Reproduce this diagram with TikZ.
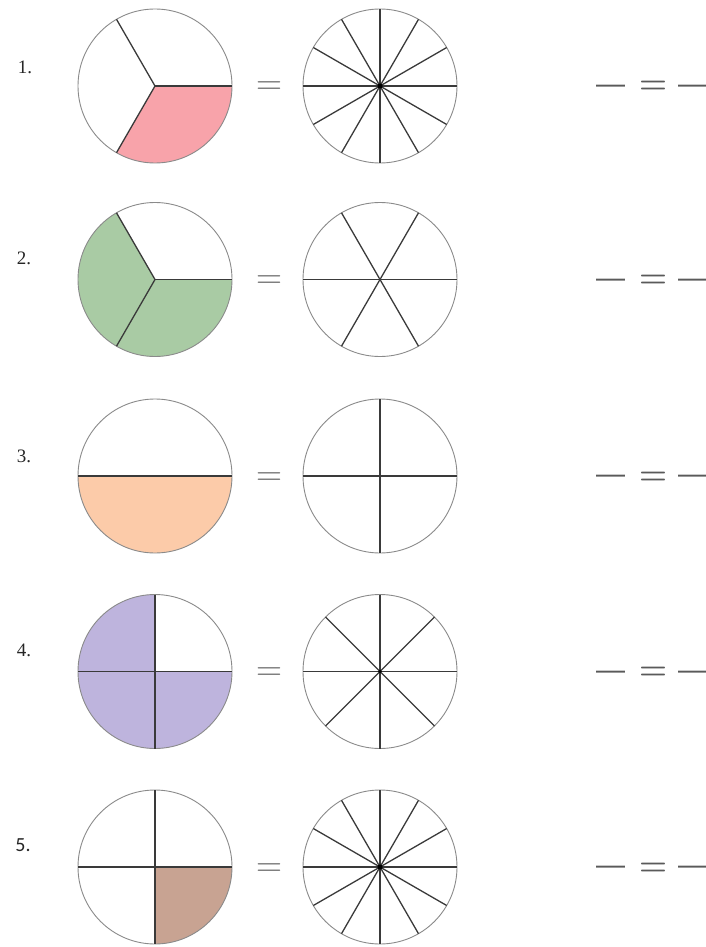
\documentclass[tikz,border=0pt]{standalone}
\usepackage{fontspec}
\newfontfamily\carl{Carlito}
\newfontfamily\lserif{Liberation Serif}
\newfontfamily\lsans{Liberation Sans}
\definecolor{rimgray}{HTML}{8A8A8A}
\definecolor{divgray}{HTML}{3A3A3A}
\definecolor{eqgray}{HTML}{6A6A6A}
\definecolor{blankgray}{HTML}{5A5A5A}
\definecolor{pinkfill}{HTML}{F8A3AA}
\definecolor{greenfill}{HTML}{A9CBA4}
\definecolor{orangefill}{HTML}{FCCBA9}
\definecolor{purplefill}{HTML}{BEB4DD}
\definecolor{brownfill}{HTML}{C8A392}
\tikzset{
  pie/.style={circle, draw=rimgray, line width=0.9pt, minimum size=154pt, inner sep=0pt, outer sep=0pt},
  div/.style={draw=divgray, line width=1.3pt},
  eqsign/.style={anchor=base, inner sep=0pt, text=eqgray, font=\fontsize{36}{40}\selectfont},
  blankdash/.style={anchor=base, inner sep=0pt, text=blankgray, font=\lsans\fontsize{29}{32}\selectfont},
  blankeq/.style={anchor=base, inner sep=0pt, text=blankgray, font=\bfseries\fontsize{32}{36}\selectfont},
  numlabel/.style={inner sep=0pt, text=black!85, font=\lserif\fontsize{19}{22}\selectfont},
  hubdot/.style={fill=black}
}
\begin{document}
\begin{tikzpicture}[x=1pt,y=1pt]
\useasboundingbox (0,0) rectangle (706,-947);
% centres
\coordinate (a1) at (155,-86);   \coordinate (b1) at (380,-86);
\coordinate (a2) at (155,-279.5);\coordinate (b2) at (380,-279.5);
\coordinate (a3) at (155,-476);  \coordinate (b3) at (380,-476);
\coordinate (a4) at (155,-671.5);\coordinate (b4) at (380,-671.5);
\coordinate (a5) at (155,-867);  \coordinate (b5) at (380,-867);
% fills
\fill[pinkfill] (a1) -- ++(240:77) arc[start angle=240,end angle=360,radius=77] -- cycle;
\fill[greenfill] (a2) -- ++(120:77) arc[start angle=120,end angle=360,radius=77] -- cycle;
\fill[orangefill] (a3) -- ++(180:77) arc[start angle=180,end angle=360,radius=77] -- cycle;
\fill[purplefill] (a4) -- ++(90:77) arc[start angle=90,end angle=360,radius=77] -- cycle;
\fill[brownfill] (a5) -- ++(270:77) arc[start angle=270,end angle=360,radius=77] -- cycle;
% circles
\foreach \i in {1,...,5}{
  \node[pie] (L\i) at (a\i) {};
  \node[pie] (R\i) at (b\i) {};
}
% left dividers
\foreach \ang in {0,120,240} \draw[div] (L1.center) -- (L1.\ang);
\foreach \ang in {0,120,240} \draw[div] (L2.center) -- (L2.\ang);
\draw[div] (L3.180) -- (L3.0);
\draw[div] (L4.180) -- (L4.0); \draw[div] (L4.90) -- (L4.270);
\draw[div] (L5.180) -- (L5.0); \draw[div] (L5.90) -- (L5.270);
% right dividers
\foreach \ang in {0,30,...,150} \draw[div] (R1.\ang) -- (R1.\ang+180);
\foreach \ang in {0,60,120} \draw[div] (R2.\ang) -- (R2.\ang+180);
\foreach \ang in {0,90} \draw[div] (R3.\ang) -- (R3.\ang+180);
\foreach \ang in {0,45,90,135} \draw[div] (R4.\ang) -- (R4.\ang+180);
\foreach \ang in {0,30,...,150} \draw[div] (R5.\ang) -- (R5.\ang+180);
\fill[hubdot] (R1.center) circle (2.6);
\fill[hubdot] (R4.center) circle (1.8);
\fill[hubdot] (R5.center) circle (2.6);
% labels
\node[numlabel] (n1) at (25,-67) {1.};
\node[numlabel] (n2) at (24,-258) {2.};
\node[numlabel] (n3) at (24,-456) {3.};
\node[numlabel] (n4) at (24,-650) {4.};
\node[numlabel, font=\carl\fontsize{20}{22}\selectfont] (n5) at (23,-845) {5.};
% equals between circles and answer blanks
\foreach \i/\y in {1/86,2/279.5,3/476,4/671.5,5/867}{
  \node[eqsign] (e\i) at (269,-\y-9) {=};
  \node[blankdash] (d\i) at (610.5,-\y-7.5) {—};
  \node[blankeq] (q\i) at (653,-\y-8) {=};
  \node[blankdash] (f\i) at (692.5,-\y-7.5) {—};
}
\end{tikzpicture}
\end{document}
